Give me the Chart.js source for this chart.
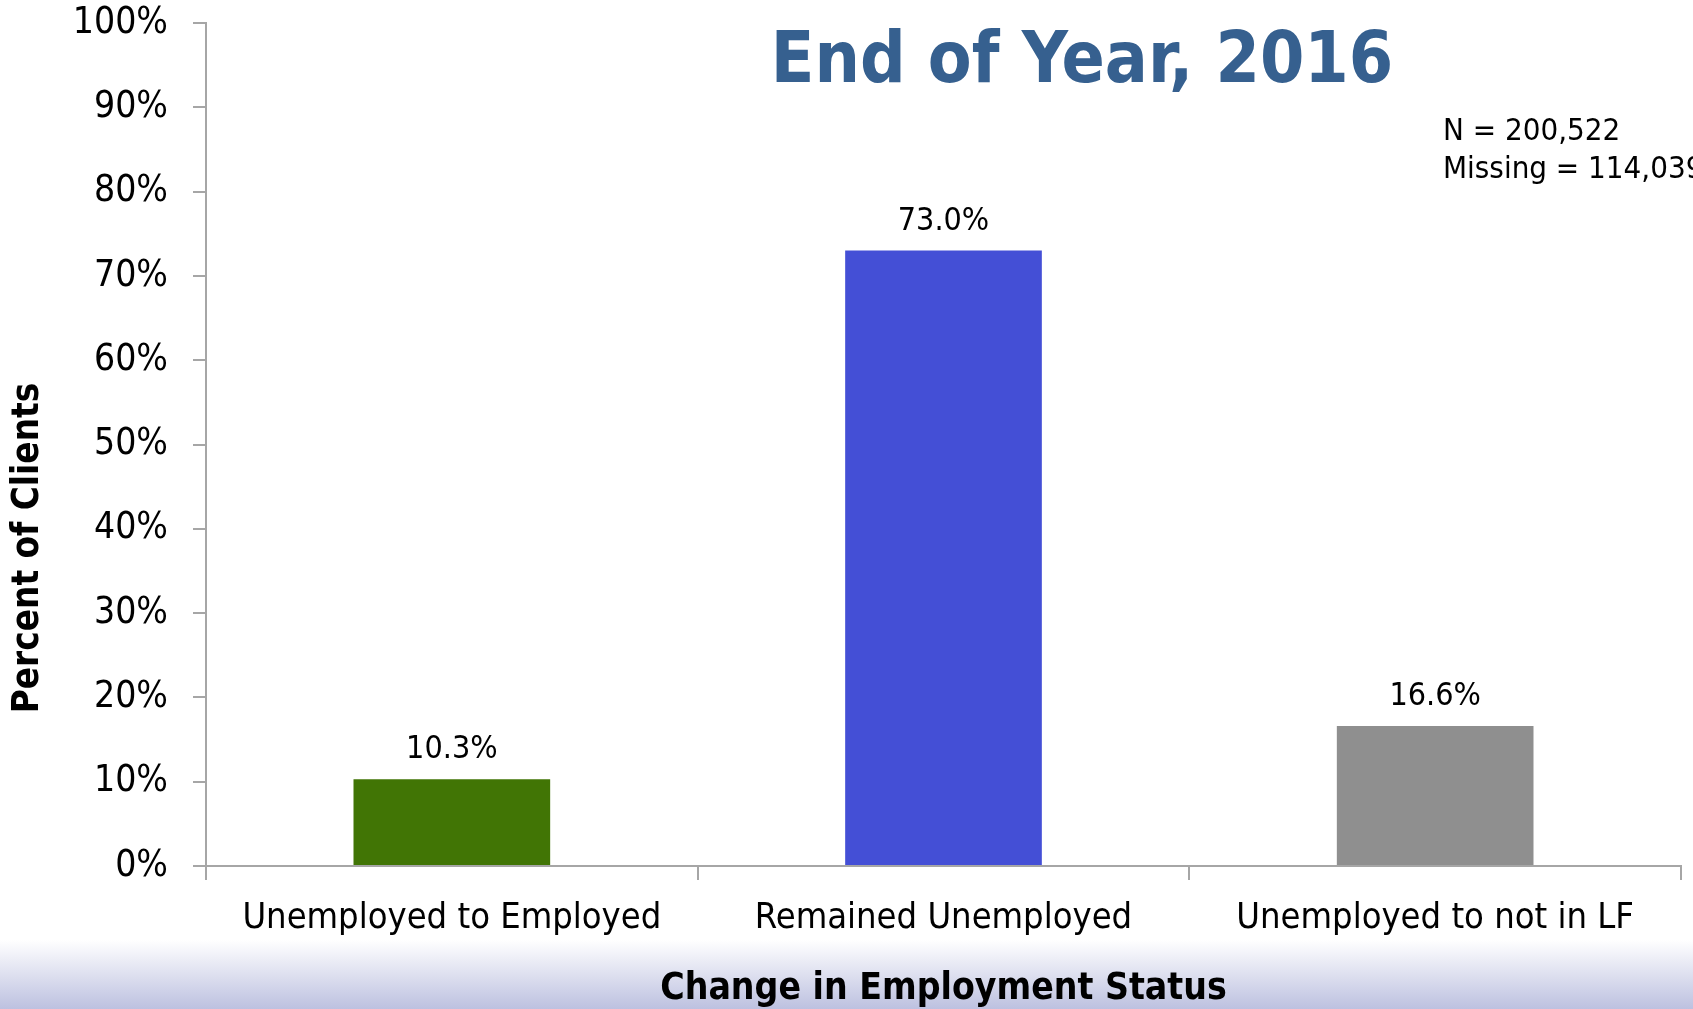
<!DOCTYPE html>
<html>
<head>
<meta charset="utf-8">
<title>End of Year, 2016</title>
<script src="https://cdn.jsdelivr.net/npm/chart.js@4.4.1/dist/chart.umd.min.js"></script>
<style>
  html, body { margin: 0; padding: 0; background: #fff; }
  #wrap { width: 1693px; height: 1009px; }
</style>
</head>
<body>
<div id="wrap"><canvas id="statusChart" width="1693" height="1009"></canvas></div>
<script>
// Change in employment status, clients unemployed at intake
const categories = ['Unemployed to Employed', 'Remained Unemployed', 'Unemployed to not in LF'];
const percents = [10.3, 73.0, 16.6];
const barColors = ['#417505', '#444FD6', '#8F8F8F'];
const yTicks = [0, 10, 20, 30, 40, 50, 60, 70, 80, 90, 100];
const noteLines = ['N = 200,522', 'Missing = 114,039'];

const FONT = '"DejaVu Sans Condensed", "DejaVu Sans", sans-serif';
const AXIS_GREY = '#A6A6A6';

// white page with the lavender band along the bottom edge
const backdrop = {
    id: 'backdrop',
    beforeDraw(chart) {
        const { ctx, width, height } = chart;
        ctx.save();
        ctx.fillStyle = '#FFFFFF';
        ctx.fillRect(0, 0, width, height);
        const g = ctx.createLinearGradient(0, 940, 0, height);
        g.addColorStop(0, 'rgba(255,255,255,1)');
        g.addColorStop(1, '#BDC1E0');
        ctx.fillStyle = g;
        ctx.fillRect(0, 940, width, height - 940);
        ctx.restore();
    }
};

// value labels over each bar, heading, y title and sample-size note
const annotations = {
    id: 'annotations',
    afterDatasetsDraw(chart) {
        const { ctx } = chart;
        const yScale = chart.scales.y;
        const meta = chart.getDatasetMeta(0);
        ctx.save();
        ctx.fillStyle = '#000';
        ctx.font = '32px ' + FONT;
        ctx.textAlign = 'center';
        ctx.textBaseline = 'alphabetic';
        meta.data.forEach((bar, i) => {
            const top = yScale.getPixelForValue(percents[i]);
            ctx.fillText(percents[i].toFixed(1) + '%', bar.x, top - 21);
        });
        ctx.restore();
    },
    afterDraw(chart) {
        const { ctx } = chart;
        ctx.save();
        ctx.fillStyle = '#36608F';
        ctx.font = 'bold 71px ' + FONT;
        ctx.textAlign = 'center';
        ctx.textBaseline = 'alphabetic';
        ctx.fillText('End of Year, 2016', 1082, 82);

        ctx.fillStyle = '#000';
        ctx.font = '31px ' + FONT;
        ctx.textAlign = 'left';
        noteLines.forEach((line, i) => ctx.fillText(line, 1443, 140 + i * 38));

        // y title sits a little below the middle of the plot
        ctx.translate(29, 548);
        ctx.rotate(-Math.PI / 2);
        ctx.font = 'bold 36.5px ' + FONT;
        ctx.textAlign = 'center';
        ctx.textBaseline = 'middle';
        ctx.fillText('Percent of Clients', 0, 0);
        ctx.restore();
    }
};

new Chart(document.getElementById('statusChart'), {
    type: 'bar',
    data: {
        labels: categories,
        datasets: [{
            data: percents,
            backgroundColor: barColors,
            borderWidth: 0,
            categoryPercentage: 1,
            barPercentage: 0.4
        }]
    },
    options: {
        responsive: false,
        animation: false,
        layout: { padding: { left: 0, top: 23, right: 12, bottom: 0 } },
        plugins: {
            legend: { display: false },
            tooltip: { enabled: false }
        },
        scales: {
            x: {
                grid: { drawOnChartArea: false, drawTicks: true, tickLength: 14, color: AXIS_GREY, lineWidth: 2 },
                border: { display: true, color: AXIS_GREY, width: 2 },
                ticks: { color: '#000', font: { family: FONT, size: 36 }, padding: 17, maxRotation: 0 },
                title: {
                    display: true,
                    text: 'Change in Employment Status',
                    color: '#000',
                    font: { family: FONT, size: 37, weight: 'bold', lineHeight: 1 },
                    padding: { top: 0, bottom: 1.5 }
                },
                afterFit(scale) { scale.height = 143; }
            },
            y: {
                min: 0,
                max: 100,
                afterBuildTicks(scale) { scale.ticks = yTicks.map(v => ({ value: v })); },
                grid: { drawOnChartArea: false, drawTicks: true, tickLength: 13, color: AXIS_GREY, lineWidth: 2 },
                border: { display: true, color: AXIS_GREY, width: 2 },
                ticks: {
                    color: '#000',
                    font: { family: FONT, size: 37 },
                    padding: 25,
                    callback: v => v + '%'
                },
                afterFit(scale) {
                    scale.width = 206;
                    scale.paddingTop = 0;
                    scale.paddingBottom = 0;
                }
            }
        }
    },
    plugins: [backdrop, annotations]
});
</script>
</body>
</html>
